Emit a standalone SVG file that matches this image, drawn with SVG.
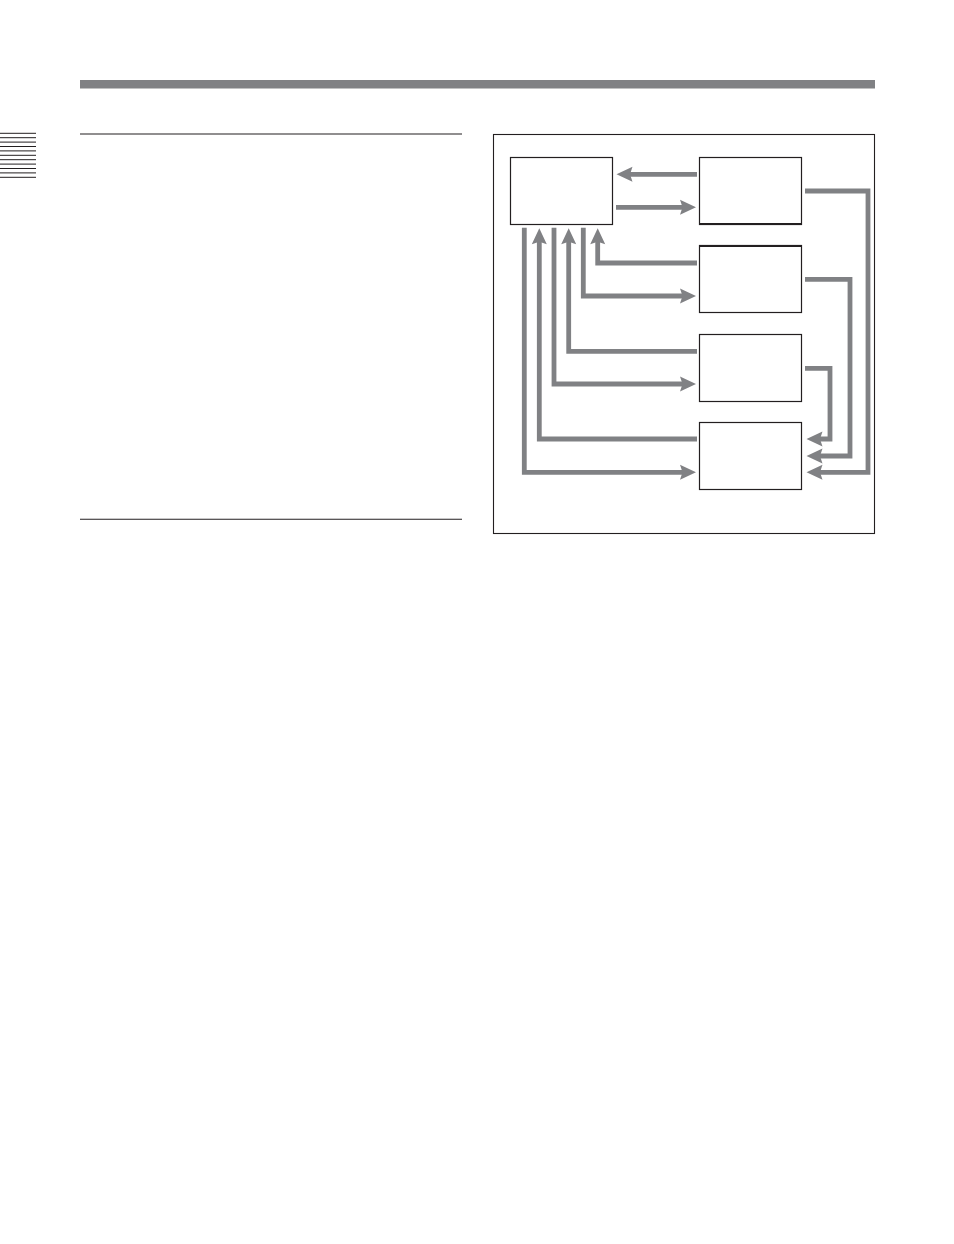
<svg xmlns="http://www.w3.org/2000/svg" width="954" height="1244" viewBox="0 0 954 1244">
<style>
.rule{stroke:#231f20;stroke-width:1.1;fill:none}
.box{fill:#fff;stroke:#231f20;stroke-width:1.2}
.wire{fill:none;stroke:#808184;stroke-width:4.8;stroke-linejoin:miter}
.head{fill:#808184}
</style>
<defs>
<path id="hd" d="M0,0 L-16,-7.5 L-13.5,0 L-16,7.5 Z"/>
</defs>
<rect x="0" y="0" width="954" height="1244" fill="#fff"/>
<g id="page">
<rect x="80" y="80" width="795" height="8.5" fill="#808184"/>
<line class="rule" x1="80" y1="134" x2="462" y2="134"/>
<line class="rule" x1="80" y1="519.3" x2="462" y2="519.3"/>
<g id="thumb" stroke="#231f20" stroke-width="1">
<line x1="0" y1="133.3" x2="36" y2="133.3"/>
<line x1="0" y1="137.7" x2="36" y2="137.7"/>
<line x1="0" y1="142.1" x2="36" y2="142.1"/>
<line x1="0" y1="146.5" x2="36" y2="146.5"/>
<line x1="0" y1="150.9" x2="36" y2="150.9"/>
<line x1="0" y1="155.3" x2="36" y2="155.3"/>
<line x1="0" y1="159.7" x2="36" y2="159.7"/>
<line x1="0" y1="164.1" x2="36" y2="164.1"/>
<line x1="0" y1="168.5" x2="36" y2="168.5"/>
<line x1="0" y1="172.9" x2="36" y2="172.9"/>
<line x1="0" y1="177.3" x2="36" y2="177.3"/>
</g>
<rect class="rule" x="493.5" y="134.5" width="381" height="399" stroke-width="1.4"/>
</g>
<g id="connectors">
<path class="wire" d="M697,174.3 H628"/>
<use href="#hd" class="head" transform="translate(616.5,174.3) rotate(180)"/>
<path class="wire" d="M616,207.3 H684"/>
<use href="#hd" class="head" transform="translate(696,207.3)"/>
<path class="wire" d="M697,263 H597.7 V240"/>
<use href="#hd" class="head" transform="translate(597.7,228.3) rotate(-90)"/>
<path class="wire" d="M583.3,227.7 V296 H684"/>
<use href="#hd" class="head" transform="translate(696,296)"/>
<path class="wire" d="M697,351.3 H568.7 V240"/>
<use href="#hd" class="head" transform="translate(568.7,228.3) rotate(-90)"/>
<path class="wire" d="M554,227.7 V384 H684"/>
<use href="#hd" class="head" transform="translate(696,384)"/>
<path class="wire" d="M697,439 H539.3 V240"/>
<use href="#hd" class="head" transform="translate(539.3,228.3) rotate(-90)"/>
<path class="wire" d="M524.3,227.7 V472.3 H684"/>
<use href="#hd" class="head" transform="translate(696,472.3)"/>
<path class="wire" d="M805,191 H868 V472.3 H819"/>
<use href="#hd" class="head" transform="translate(806.5,472.3) rotate(180)"/>
<path class="wire" d="M805,279.3 H850 V456 H819"/>
<use href="#hd" class="head" transform="translate(806.5,456) rotate(180)"/>
<path class="wire" d="M805,368.3 H830 V439 H819"/>
<use href="#hd" class="head" transform="translate(806.5,439) rotate(180)"/>
</g>
<g id="nodeA"><rect class="box" x="510.5" y="157.5" width="102" height="67"/></g>
<g id="nodeB"><rect class="box" x="699.5" y="157.5" width="102" height="67"/><line x1="699.5" y1="224" x2="801.5" y2="224" stroke="#231f20" stroke-width="2"/></g>
<g id="nodeC"><rect class="box" x="699.5" y="245.5" width="102" height="67"/><line x1="699.5" y1="246" x2="801.5" y2="246" stroke="#231f20" stroke-width="2"/></g>
<g id="nodeD"><rect class="box" x="699.5" y="334.5" width="102" height="67"/></g>
<g id="nodeE"><rect class="box" x="699.5" y="422.5" width="102" height="67"/></g>
</svg>
